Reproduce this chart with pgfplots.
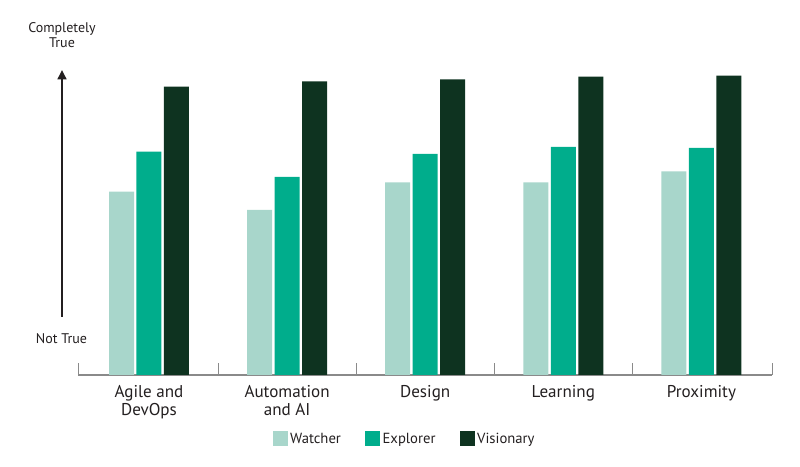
\documentclass[border=0pt]{standalone}
\usepackage{fontspec}
\setmainfont{PT Sans}
\usepackage{pgfplots}
\pgfplotsset{compat=1.18}
\usetikzlibrary{arrows.meta}
\definecolor{watcher}{HTML}{A8D6CB}
\definecolor{explorer}{HTML}{00AD8C}
\definecolor{visionary}{HTML}{0E3320}
\definecolor{txt}{HTML}{231F20}
\definecolor{axgray}{HTML}{8A8A8A}
\begin{document}
\begin{tikzpicture}
\path[use as bounding box] (0,0) rectangle (600pt,350.25pt);
\begin{axis}[
  at={(58.5pt,69pt)}, anchor=south west,
  scale only axis, width=520.5pt, height=236.25pt,
  xmin=-0.514, xmax=4.511, ymin=0, ymax=315,
  axis x line*=bottom, axis y line=none,
  axis line style={axgray, line width=0.8pt},
  ybar, bar width=0.181,
  xtick={0,1,2,3,4},
  xticklabels={{Agile and\\DevOps},{Automation\\and AI},{Design},{Learning},{Proximity}},
  xticklabel style={align=center, font=\fontsize{12.8pt}{13.6pt}\selectfont, text=txt, anchor=north, yshift=-4pt},
  major tick length=0pt,
  minor xtick={-0.514,0.5,1.5,2.5,3.5,4.511},
  minor tick length=9pt,
  minor tick style={axgray, line width=0.6pt},
  tick align=inside,
  legend columns=3,
  legend style={at={(0.471,-0.203)}, anchor=center, draw=none, fill=none,
    font=\fontsize{11pt}{13pt}\selectfont, text=txt,
    /tikz/every even column/.append style={column sep=16pt}},
  legend image code/.code={\fill[#1] (0pt,-5.6pt) rectangle (11.25pt,5.6pt);},
]
\addplot[fill=watcher, draw=none, bar shift=-0.199] coordinates {(0,183.3) (1,165) (2,192.7) (3,192.7) (4,203.7)};
\addplot[fill=explorer, draw=none, bar shift=0] coordinates {(0,223.3) (1,198) (2,221) (3,228) (4,227)};
\addplot[fill=visionary, draw=none, bar shift=0.199] coordinates {(0,288.3) (1,293.7) (2,295.7) (3,298.3) (4,299.3)};
\legend{Watcher, Explorer, Visionary}
\end{axis}
\draw[txt, line width=2pt, -{Triangle[length=7pt,width=6.5pt]}] (46.5pt,112.5pt) -- (46.5pt,297.75pt);
\node[text=txt, font=\fontsize{10.5pt}{11pt}\selectfont] at (46.1pt,96pt) {Not True};
\node[text=txt, align=center, font=\fontsize{10.5pt}{11pt}\selectfont] at (46.5pt,324pt) {Completely\\True};
\end{tikzpicture}
\end{document}
